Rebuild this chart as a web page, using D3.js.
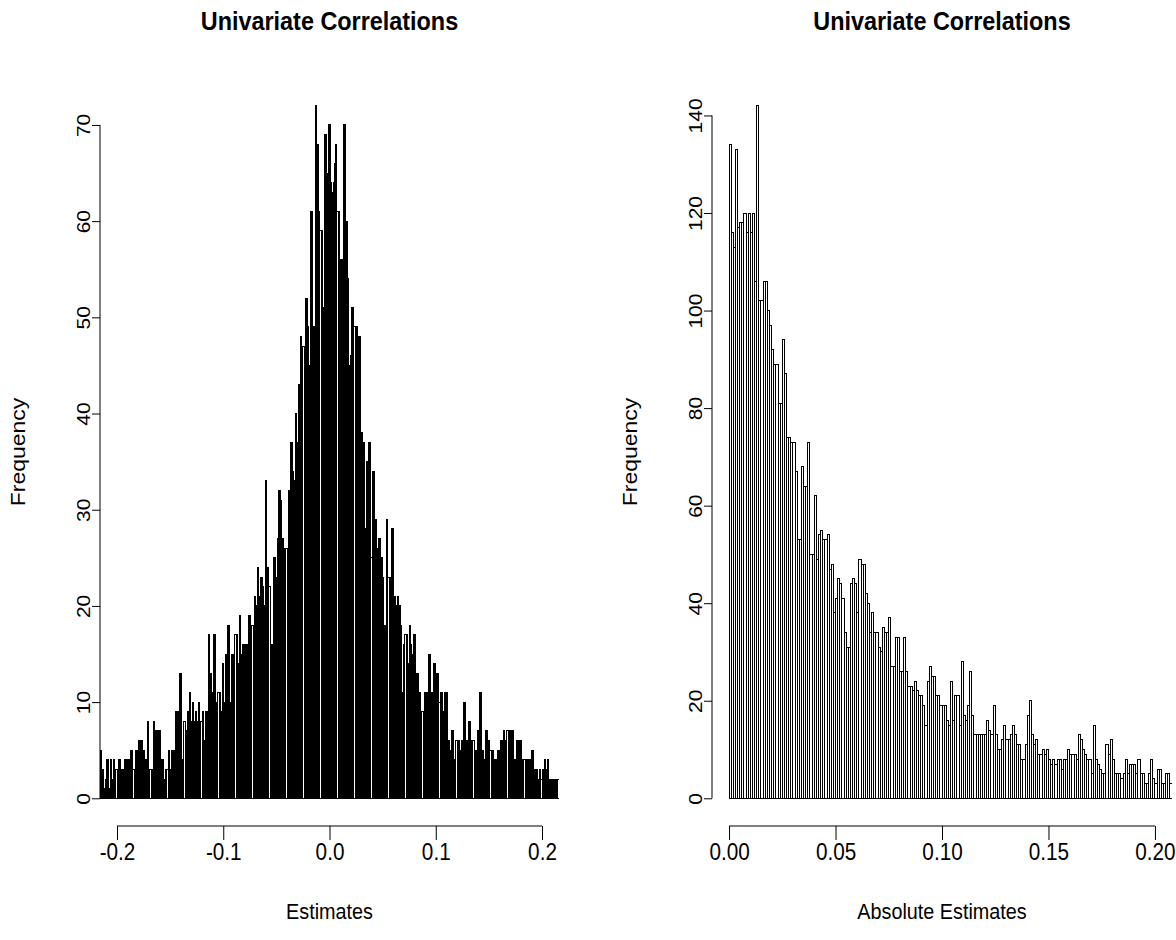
<!DOCTYPE html>
<html>
<head>
<meta charset="utf-8">
<script src="https://cdn.jsdelivr.net/npm/d3@7"></script>
<style>
  body { margin: 0; background: #fff; }
  text { font-family: "Liberation Sans", Arial, sans-serif; fill: #000; }
</style>
</head>
<body>
<svg id="chart" width="1176" height="940"></svg>
<script>
// histogram counts, one per 0.001 bin
var estimateStart = -0.216;
var estimateCounts = [
  5,3,3,1,1,2,4,4,1,1, 4,2,2,4,3,3,3,4,4,3, 3,3,3,4,4,3,4,4,4,5, 5,3,3,5,5,5,6,6,6,6,
  5,5,4,4,3,8,3,3,3,3, 8,7,7,7,7,4,7,4,4,4, 2,2,3,3,5,3,3,5,5,5, 5,9,9,9,9,13,13,4,4,8,
  7,7,9,9,11,8,8,10,8,8, 9,8,8,10,8,8,9,6,6,9, 9,9,17,13,13,11,11,17,17,10, 10,11,11,9,9,14,10,10,15,15,
  18,18,10,10,15,15,13,17,17,14, 14,19,15,15,16,16,16,16,16,16, 19,19,18,18,18,21,20,20,24,21, 21,23,23,22,20,20,33,24,24,22,
  16,16,15,25,25,23,23,27,32,32, 31,27,27,20,26,26,26,32,32,37, 37,34,33,33,40,37,37,43,43,48, 47,47,43,52,52,49,45,45,61,61,
  49,49,49,72,68,68,61,59,59,51, 51,69,69,65,65,70,70,64,63,63, 64,66,68,61,61,55,56,56,55,70, 70,60,60,54,45,45,46,51,51,49,
  49,49,48,48,48,38,38,37,37,28, 28,35,35,37,37,25,34,34,29,29, 26,26,27,27,25,25,23,18,18,18, 29,23,23,22,28,28,21,21,20,20,
  21,20,20,18,11,11,16,17,17,14, 14,18,16,15,11,17,17,13,13,13, 11,11,9,9,9,11,11,11,9,15, 15,11,11,11,14,14,10,13,13,10,
  11,11,9,9,11,11,11,6,6,5, 5,7,7,4,4,6,6,6,5,5, 6,6,10,10,6,6,6,8,8,6, 6,6,5,5,5,7,7,11,11,5,
  5,4,4,7,7,6,6,5,5,5, 4,4,4,4,5,5,5,6,6,6, 7,6,6,7,7,7,7,7,7,4, 4,4,6,6,6,6,6,4,4,4,
  4,4,4,4,4,4,5,5,3,3, 2,3,2,2,3,2,3,2,4,2, 3,4,2,1,2,1,2,1,2,1, 2,2
];

var absoluteStart = 0;
var absoluteCounts = [
  134,116,113,133,117,118,118,120,116,120, 116,120,106,142,102,102,106,106,100,97,
  92,89,89,81,81,94,87,74,74,73, 73,67,53,53,68,64,64,73,50,50,
  62,49,54,55,53,53,54,47,48,38, 41,45,44,41,34,31,31,44,45,44,
  38,49,48,48,42,40,34,38,34,34, 31,30,35,34,34,37,27,27,33,33,
  26,26,33,26,23,23,22,24,22,21, 21,19,15,24,27,25,25,21,21,19,
  19,19,16,15,24,16,21,21,15,28, 17,16,19,26,17,13,13,13,13,13,
  13,16,14,13,19,13,10,10,12,15, 12,12,13,15,13,11,11,8,8,11,
  17,20,13,11,12,9,9,10,9,10, 8,7,8,7,8,8,6,8,8,10,
  9,9,9,8,13,12,10,9,8,8, 5,15,8,7,6,5,5,11,9,12,
  8,5,5,5,4,5,8,5,7,7, 7,5,8,5,5,3,3,5,8,4,
  3,6,6,3,3,5,5,3
];

var estimateTicks = [-0.2, -0.1, 0.0, 0.1, 0.2];
var estimateTickLabels = ['-0.2', '-0.1', '0.0', '0.1', '0.2'];
var absoluteTicks = [0, 0.05, 0.10, 0.15, 0.20];
var absoluteTickLabels = ['0.00', '0.05', '0.10', '0.15', '0.20'];
var estimateFreqTicks = [0, 10, 20, 30, 40, 50, 60, 70];
var absoluteFreqTicks = [0, 20, 40, 60, 80, 100, 120, 140];

var binWidth = 0.001;
// the picture is a bit narrower than tall, text looks condensed
var squeeze = 0.9;

var svg = d3.select('#chart');

function drawPanel(opt) {
  // R style: limits stretched by 4% on each side
  var xPad = (opt.xlim[1] - opt.xlim[0]) * 0.04;
  var yMax = d3.max(opt.counts);
  var yPad = yMax * 0.04;

  var x = d3.scaleLinear()
    .domain([opt.xlim[0] - xPad, opt.xlim[1] + xPad])
    .range([opt.left, opt.right]);
  var y = d3.scaleLinear()
    .domain([-yPad, yMax + yPad])
    .range([826, 78]);

  var g = svg.append('g');

  g.append('clipPath')
    .attr('id', opt.id + '-clip')
    .append('rect')
    .attr('x', opt.left)
    .attr('y', 78)
    .attr('width', opt.right - opt.left)
    .attr('height', 826 - 78);

  var bins = opt.counts.map(function(c, i) {
    var x0 = opt.start + i * binWidth;
    return {x0: x0, x1: x0 + binWidth, count: c};
  });

  g.append('g')
    .attr('clip-path', 'url(#' + opt.id + '-clip)')
    .attr('shape-rendering', 'crispEdges')
    .selectAll('rect')
    .data(bins)
    .enter().append('rect')
    .attr('x', function(d) { return x(d.x0); })
    .attr('width', function(d) { return x(d.x1) - x(d.x0); })
    .attr('y', function(d) { return y(d.count); })
    .attr('height', function(d) { return y(0) - y(d.count); })
    .attr('fill', 'none')
    .attr('stroke', '#000')
    .attr('stroke-width', 1);

  // x axis
  var xAxis = d3.axisBottom(x)
    .tickValues(opt.xTicks)
    .tickFormat(function(d, i) { return opt.xLabels[i]; })
    .tickSizeOuter(0)
    .tickSize(14)
    .tickPadding(4);
  var xg = g.append('g')
    .attr('transform', 'translate(0,826)')
    .call(xAxis);
  xg.select('.domain').remove();
  xg.append('line')
    .attr('x1', x(opt.xTicks[0]))
    .attr('x2', x(opt.xTicks[opt.xTicks.length - 1]))
    .attr('stroke', '#000');
  xg.selectAll('.tick line').attr('stroke', '#000');
  xg.selectAll('.tick text')
    .style('font-size', '23px')
    .attr('transform', 'scale(' + squeeze + ',1)');

  // y axis, labels turned like R
  var yAxis = d3.axisLeft(y)
    .tickValues(opt.yTicks)
    .tickSizeOuter(0)
    .tickSize(8);
  var yg = g.append('g')
    .attr('transform', 'translate(' + opt.left + ',0)')
    .call(yAxis);
  yg.select('.domain').remove();
  yg.append('line')
    .attr('y1', y(opt.yTicks[0]))
    .attr('y2', y(opt.yTicks[opt.yTicks.length - 1]))
    .attr('stroke', '#000');
  yg.selectAll('.tick line').attr('stroke', '#000');
  yg.selectAll('.tick text')
    .attr('transform', 'rotate(-90) scale(1,' + squeeze + ')')
    .attr('x', 0)
    .attr('y', -11)
    .attr('dy', 0)
    .style('text-anchor', 'middle')
    .style('font-size', '21px');

  var mid = (opt.left + opt.right) / 2;

  svg.append('text')
    .attr('transform', 'translate(' + mid + ',30) scale(' + squeeze + ',1)')
    .attr('text-anchor', 'middle')
    .style('font-size', '26px')
    .style('font-weight', 'bold')
    .text(opt.title);

  svg.append('text')
    .attr('transform', 'translate(' + mid + ',919) scale(' + squeeze + ',1)')
    .attr('text-anchor', 'middle')
    .style('font-size', '22px')
    .text(opt.xTitle);

  svg.append('text')
    .attr('transform', 'translate(' + (opt.left - 75) + ',' + ((78 + 826) / 2) +
      ') rotate(-90) scale(1,' + squeeze + ')')
    .attr('text-anchor', 'middle')
    .style('font-size', '23px')
    .text('Frequency');
}

drawPanel({
  id: 'est',
  counts: estimateCounts,
  start: estimateStart,
  xlim: [-0.2, 0.2],
  left: 100,
  right: 559,
  xTicks: estimateTicks,
  xLabels: estimateTickLabels,
  yTicks: estimateFreqTicks,
  title: 'Univariate Correlations',
  xTitle: 'Estimates'
});

drawPanel({
  id: 'abs',
  counts: absoluteCounts,
  start: absoluteStart,
  xlim: [0, 0.2],
  left: 712,
  right: 1172,
  xTicks: absoluteTicks,
  xLabels: absoluteTickLabels,
  yTicks: absoluteFreqTicks,
  title: 'Univariate Correlations',
  xTitle: 'Absolute Estimates'
});
</script>
</body>
</html>
